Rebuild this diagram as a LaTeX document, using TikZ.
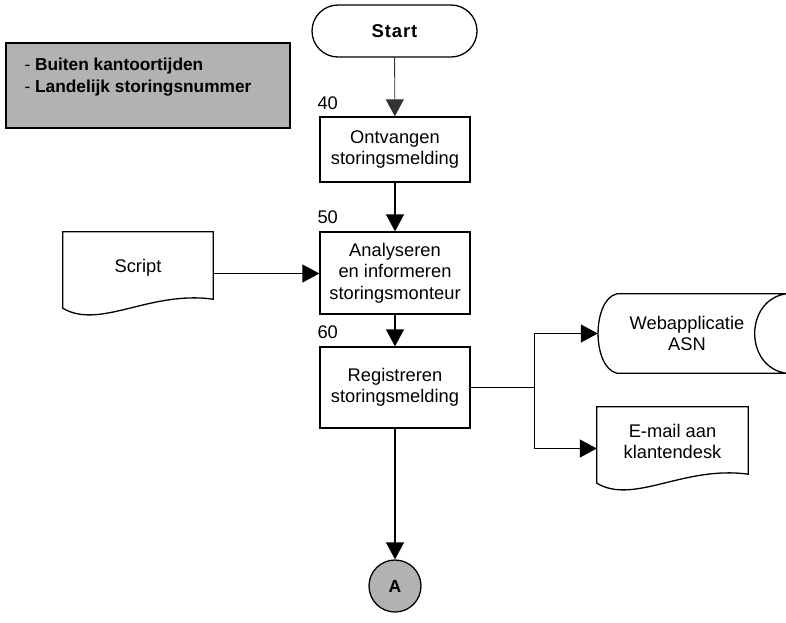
\documentclass[tikz,border=0pt]{standalone}
\usepackage{fontspec}
\setmainfont{Liberation Sans}
\usetikzlibrary{arrows.meta,calc}

% document symbol: flat top, straight sides, wavy bottom edge
\newcommand\docoutline[1]{%
  \draw[line] (#1.north west) -- (#1.north east) -- ([shift={(0,-16)}]#1.south east)
    .. controls ([shift={(87,-25)}]#1.south west) and ([shift={(37,15)}]#1.south west)
    .. ([shift={(0,-7)}]#1.south west) -- cycle;}

% stored-data symbol: convex left side, concave right side
\newcommand\storedoutline[1]{%
  \draw[line] ([shift={(19,0)}]#1.north west) -- (#1.north east)
    .. controls ([shift={(-42,6)}]#1.north east) and ([shift={(-42,-6)}]#1.south east)
    .. (#1.south east) -- ([shift={(19,0)}]#1.south west)
    .. controls ([shift={(-6,-6)}]#1.south west) and ([shift={(-6,6)}]#1.north west)
    .. ([shift={(19,0)}]#1.north west) -- cycle;}

\begin{document}
\begin{tikzpicture}[x=1pt,y=-1pt,
  line/.style={line width=1.3pt, draw=black, line join=miter},
  txt/.style={font=\fontsize{18.3}{21.5}\selectfont, align=center, inner sep=0pt},
  box/.style={line, rectangle, minimum width=150pt, txt},
  terminal/.style={line, rectangle, rounded corners=26pt, minimum width=165pt,
    minimum height=52pt, font=\fontsize{18.5}{21}\selectfont\bfseries\addfontfeature{LetterSpace=5}},
  area/.style={rectangle, inner sep=0pt},
  num/.style={txt, anchor=base west},
  connectorA/.style={line, circle, fill=gray!60, minimum size=52pt, inner sep=0pt,
    font=\fontsize{17.5}{20}\selectfont\bfseries},
  note/.style={line, rectangle, fill=gray!60, minimum width=284pt, minimum height=85pt},
  notetext/.style={font=\fontsize{17.3}{22}\selectfont\bfseries, align=left, inner sep=0pt},
  arrow/.style={line, -{Triangle[length=17pt,width=18pt]}},
  thinarrow/.style={line width=0.9pt, draw=black!80, -{Triangle[length=17pt,width=18pt]}}
]
\useasboundingbox (0,0) rectangle (786,622);

% remark block
\node[note] (note) at (148,85.5) {};
\node[notetext, anchor=north west] (notelbl) at ([shift={(19,15)}]note.north west)
  {{\mdseries -} Buiten kantoortijden\\{\mdseries -} Landelijk storingsnummer};

% main process column
\node[terminal] (start) at (394.5,31) {Start};
\node[box, minimum height=65pt] (ontv) at (395,149.5) {Ontvangen\\storingsmelding};
\node[box, minimum height=82pt] (anal) at (395,273) {Analyseren\\en informeren\\storingsmonteur};
\node[box, minimum height=81pt] (reg) at (395,387.5) {Registreren\\storingsmelding};
\node[connectorA] (A) at (395,586) {A};

\node[num] (n40) at ([shift={(-2,-7)}]ontv.north west) {40};
\node[num] (n50) at ([shift={(-2,-8)}]anal.north west) {50};
\node[num] (n60) at ([shift={(-2,-8)}]reg.north west) {60};

% input document
\node[area, minimum width=150pt, minimum height=83pt] (script) at (138,273.5) {};
\docoutline{script}
\node[txt] (scriptlbl) at ([shift={(0,-6)}]script.center) {Script};

% outputs
\node[area, minimum width=188pt, minimum height=79pt] (web) at (692,333.5) {};
\storedoutline{web}
\node[txt] (weblbl) at ([shift={(-5,0)}]web.center) {Webapplicatie\\ASN};

\node[area, minimum width=151pt, minimum height=83pt] (mail) at (672.5,448.5) {};
\docoutline{mail}
\node[txt] (maillbl) at ([shift={(0,-7)}]mail.center) {E-mail aan\\klantendesk};

% connectors
\draw[thinarrow] (start) -- (ontv);
\draw[arrow] (ontv) -- (anal);
\draw[arrow] (anal) -- (reg);
\draw[arrow] (reg) -- (A);
\draw[arrow] (script.east) -- (script.east -| anal.west);
\path (reg.east) ++(64,0) coordinate (split);
\draw[line] (reg.east) -- (split);
\draw[arrow] (split) |- (web.west);
\draw[arrow] (split) |- (mail.west);
\end{tikzpicture}
\end{document}
